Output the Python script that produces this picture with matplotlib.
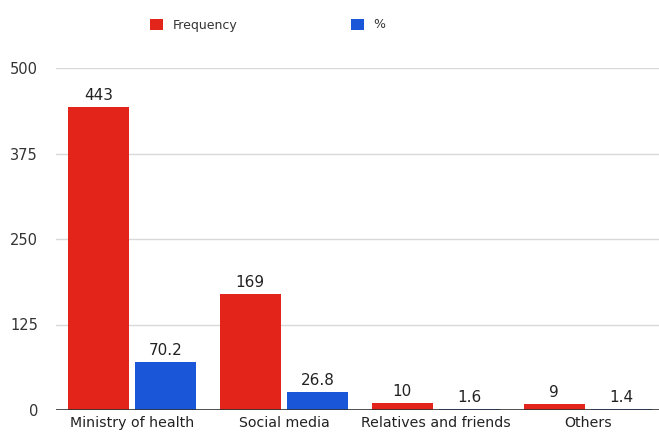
import matplotlib
matplotlib.use("Agg")
import matplotlib.pyplot as plt
from matplotlib.patches import Patch
import numpy as np

categories = ["Ministry of health", "Social media", "Relatives and friends", "Others"]
frequency = [443, 169, 10, 9]
percent = [70.2, 26.8, 1.6, 1.4]
y_ticks = [0, 125, 250, 375, 500]

RED = "#e3241a"
BLUE = "#1a56d8"
TEXT = "#222222"

plt.rcParams["font.family"] = ["DejaVu Sans"]

W, H = 659, 432
fig = plt.figure(figsize=(W / 100, H / 100), dpi=100)
ax = fig.add_axes([56 / W, 1 - 410 / H, (W - 56) / W, (410 - 68) / H])

x = np.arange(len(categories))
width = 0.40
offset = 0.222
b1 = ax.bar(x - offset, frequency, width, color=RED, zorder=3)
b2 = ax.bar(x + offset, percent, width, color=BLUE, zorder=3)

for rect, v in zip(b1, frequency):
    ax.annotate(f"{v}", (rect.get_x() + rect.get_width() / 2, v),
                xytext=(0, 3), textcoords="offset points",
                ha="center", va="bottom", fontsize=11, color=TEXT)
for rect, v in zip(b2, percent):
    ax.annotate(f"{v}", (rect.get_x() + rect.get_width() / 2, v),
                xytext=(0, 3), textcoords="offset points",
                ha="center", va="bottom", fontsize=11, color=TEXT)

ax.set_xlim(-0.5, 3.467)
ax.set_ylim(0, 500)
ax.set_yticks(y_ticks)
ax.set_yticklabels([str(t) for t in y_ticks], fontsize=10.5, color="#333333")
ax.set_xticks(x)
ax.set_xticklabels(categories, fontsize=10.2, color=TEXT)
ax.tick_params(axis="both", length=0)
ax.tick_params(axis="y", pad=13)
ax.tick_params(axis="x", pad=4)

for s in ax.spines.values():
    s.set_visible(False)
ax.grid(axis="y", color="#d9d9d9", linewidth=1, zorder=0)
ax.axhline(0, color="#333333", linewidth=1.2, zorder=4)

handles = [Patch(facecolor=RED, edgecolor="none"), Patch(facecolor=BLUE, edgecolor="none")]
fig.legend(handles, ["Frequency", "%"], loc="center left", bbox_to_anchor=(150 / W, 1 - 25 / H),
           ncol=2, frameon=False, fontsize=9, handlelength=1.0, handleheight=1.0,
           columnspacing=9.1, handletextpad=0.8, borderpad=0, borderaxespad=0,
           labelcolor="#333333")

fig.savefig("out.png", dpi=100, facecolor="white")
